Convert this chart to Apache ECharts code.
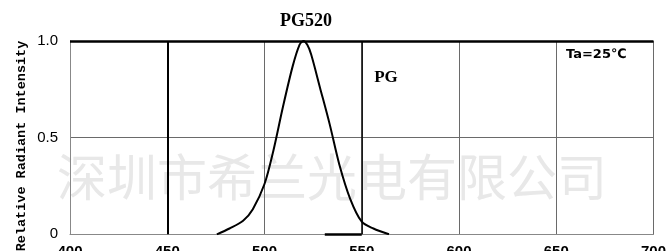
<!DOCTYPE html>
<html><head><meta charset="utf-8">
<script src="https://cdn.jsdelivr.net/npm/echarts@6/dist/echarts.min.js"></script>
<style>html,body{margin:0;padding:0;background:#fff}#c{width:668px;height:251px}</style>
</head><body><div id="c"></div>
<script>
const wavelengths = [475.5, 482, 489, 494, 500, 504.5, 509.5, 514.5, 518, 520, 522, 524, 528.5, 533.5, 538.5, 544, 550, 556, 564];
const intensity  = [0, 0.03, 0.07, 0.13, 0.26, 0.43, 0.66, 0.87, 0.98, 1.0, 0.98, 0.93, 0.76, 0.57, 0.36, 0.185, 0.065, 0.03, 0];
const xTicks = [400, 450, 500, 550, 600, 650, 700];
const yTickLabels = {0: '0', 0.5: '0.5', 1: '1.0'};
const title = 'PG520';
const seriesLabel = 'PG';
const condition = 'Ta=25℃';
const yName = 'Relative Radiant Intensity';
const watermark = '深圳市希兰光电有限公司';

const chart = echarts.init(document.getElementById('c'), null, {renderer: 'canvas'});
chart.setOption({
  animation: false,
  backgroundColor: '#fff',
  grid: {left: 70, right: 14.5, top: 41, bottom: 16.7, containLabel: false, outerBoundsMode: 'none'},
  xAxis: {
    type: 'value', min: xTicks[0], max: xTicks[xTicks.length - 1], interval: 50,
    axisLine: {show: true, lineStyle: {color: '#888', width: 1}},
    axisTick: {show: false},
    axisLabel: {color: '#000', fontSize: 15, fontWeight: 'bold', fontFamily: 'Liberation Sans', margin: 10},
    splitLine: {show: true, lineStyle: {color: '#6a6a6a', width: 1}}
  },
  yAxis: {
    type: 'value', min: 0, max: 1, interval: 0.5,
    axisLine: {show: true, lineStyle: {color: '#888', width: 1}},
    axisTick: {show: false},
    axisLabel: {color: '#000', fontSize: 15, fontFamily: 'Liberation Sans', margin: 12,
      formatter: v => yTickLabels[v] !== undefined ? yTickLabels[v] : ''},
    splitLine: {show: true, lineStyle: {color: '#6a6a6a', width: 1}}
  },
  graphic: [
    {type: 'text', z: -10, x: 57, y: 177, style: {text: watermark, fill: '#e8e8e8', fontSize: 50, fontFamily: 'Noto Sans CJK SC', align: 'left', verticalAlign: 'middle'}},
    {type: 'text', z: 10, x: 306, y: 21, style: {text: title, fill: '#000', fontSize: 18, fontWeight: 'bold', fontFamily: 'Liberation Serif', align: 'center', verticalAlign: 'middle'}},
    {type: 'text', z: 10, x: 386, y: 78, style: {text: seriesLabel, fill: '#000', fontSize: 17, fontWeight: 'bold', fontFamily: 'Liberation Serif', align: 'center', verticalAlign: 'middle'}},
    {type: 'text', z: 10, x: 566, y: 55, style: {text: condition, fill: '#000', fontSize: 13, fontWeight: 'bold', fontFamily: 'DejaVu Sans', align: 'left', verticalAlign: 'middle'}},
    {type: 'text', z: 10, x: 22, y: 146, rotation: Math.PI / 2, style: {text: yName, fill: '#000', fontSize: 13.5, fontWeight: 'bold', fontFamily: 'Liberation Mono', align: 'center', verticalAlign: 'middle'}}
  ],
  series: [{
    type: 'line', smooth: 0.3, showSymbol: false, z: 5,
    data: wavelengths.map((w, i) => [w, intensity[i]]),
    lineStyle: {color: '#000', width: 2},
    markLine: {
      silent: true, symbol: 'none', label: {show: false},
      data: [
        {xAxis: 450, lineStyle: {color: '#000', width: 2, type: 'solid'}},
        {xAxis: 550, lineStyle: {color: '#000', width: 1.5, type: 'solid'}},
        {yAxis: 1, lineStyle: {color: '#000', width: 2.5, type: 'solid'}},
        [{coord: [531, 0], lineStyle: {color: '#000', width: 2.5, type: 'solid'}}, {coord: [550, 0]}]
      ]
    }
  }]
});
</script></body></html>
